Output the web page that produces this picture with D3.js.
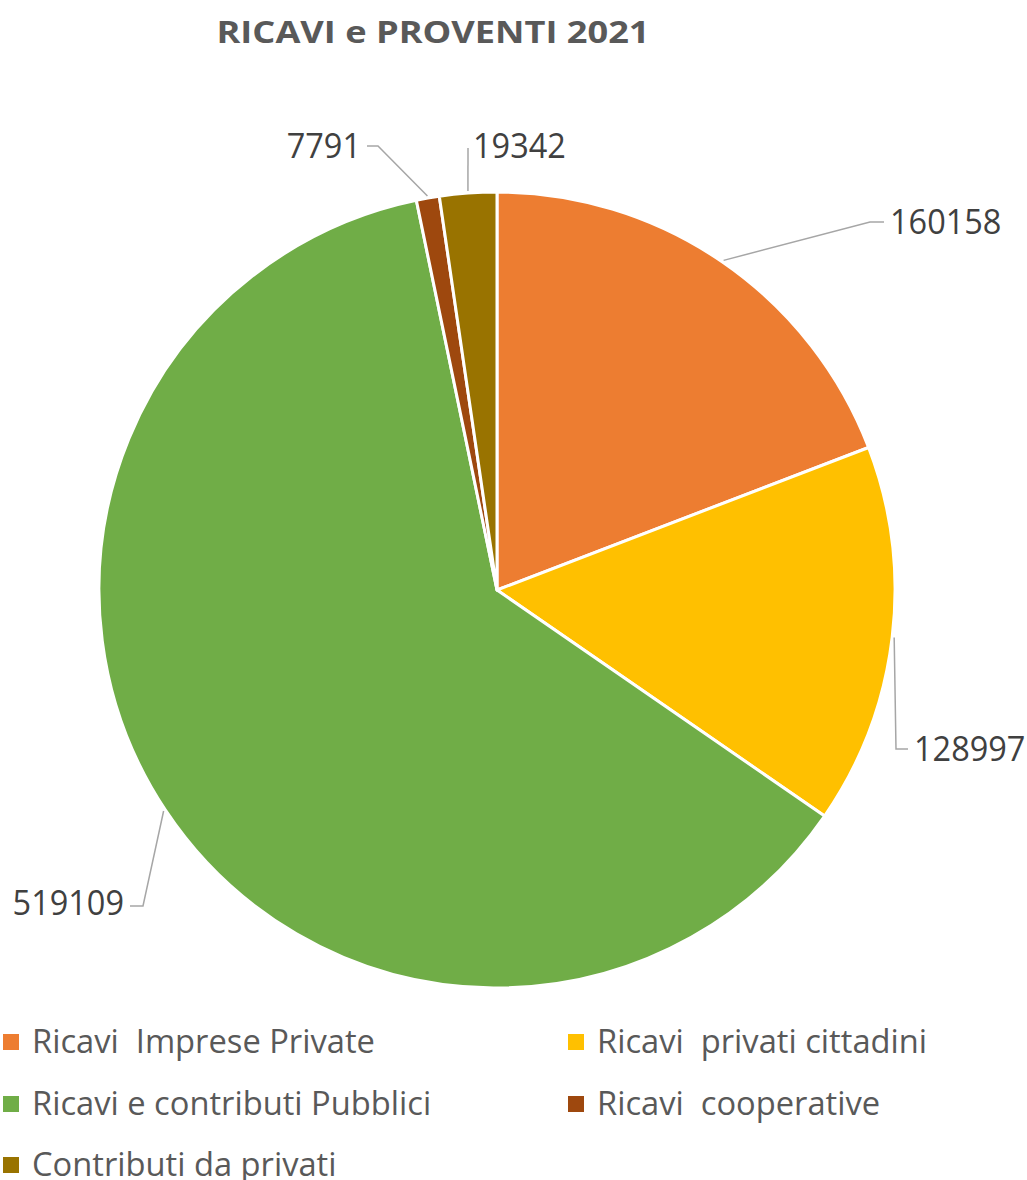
<!DOCTYPE html>
<html>
<head>
<meta charset="utf-8">
<script src="https://cdn.jsdelivr.net/npm/d3@7"></script>
<style>
  html, body { margin: 0; padding: 0; background: #fff; }
  text { font-family: "Open Sans", sans-serif; white-space: pre; }
</style>
</head>
<body>
<svg id="chart" width="1027" height="1180"></svg>
<script>
// data (clockwise from 12 o'clock)
var categories = [
  'Ricavi  Imprese Private',
  'Ricavi  privati cittadini',
  'Ricavi e contributi Pubblici',
  'Ricavi  cooperative',
  'Contributi da privati'
];
var values = [160158, 128997, 519109, 7791, 19342];
var colors = ['#ED7D31', '#FFC000', '#70AD47', '#9E480E', '#997300'];
var title = 'RICAVI e PROVENTI 2021';

// layout
var W = 1027, H = 1180,
    cx = 497, cy = 590, radius = 398;

// label placement: elbow of the leader line + which side the text sits on
var labelLayout = [
  {elbow: [870, 222], end: [884, 222], side: 'right', dy: 1},
  {elbow: [896, 749], end: [908, 749], side: 'right', dy: 1},
  {elbow: [143, 906], end: [130, 906], side: 'left', dy: -2},
  {elbow: [378, 146], end: [367, 146], side: 'left', dy: 1},
  {elbow: [468, 148], end: [468, 148], side: 'right', dy: -1, gap: 5}
];

var svg = d3.select('#chart');

function condense(sel, k) {
  sel.each(function () {
    var len = this.getComputedTextLength();
    d3.select(this).attr('textLength', len * k).attr('lengthAdjust', 'spacingAndGlyphs');
  });
}

// title
svg.append('text')
  .attr('x', 433)
  .attr('y', 43)
  .attr('text-anchor', 'middle')
  .attr('font-size', '31px')
  .attr('font-weight', 700)
  .attr('fill', '#595959')
  .attr('textLength', 433)
  .attr('lengthAdjust', 'spacingAndGlyphs')
  .text(title);

var pie = d3.pie().sort(null).value(d => d)
  .startAngle(0).endAngle(2 * Math.PI);
var arcs = pie(values);
var arc = d3.arc().innerRadius(0).outerRadius(radius);
var edgeArc = d3.arc().innerRadius(radius + 2).outerRadius(radius + 2);

var g = svg.append('g').attr('transform', `translate(${cx},${cy})`);

g.selectAll('path.slice')
  .data(arcs)
  .enter().append('path')
    .classed('slice', true)
    .attr('d', arc)
    .attr('fill', (d, i) => colors[i])
    .attr('stroke', '#fff')
    .attr('stroke-width', 3)
    .attr('stroke-linejoin', 'round');

// leader lines + value labels
var labels = svg.append('g').classed('labels', true);
arcs.forEach(function (d, i) {
  var lay = labelLayout[i],
      [ex, ey] = edgeArc.centroid(d),
      start = [cx + ex, cy + ey],
      gap = lay.gap || 6;
  labels.append('path')
    .attr('d', d3.line()([start, lay.elbow, lay.end]))
    .attr('fill', 'none')
    .attr('stroke', '#A6A6A6')
    .attr('stroke-width', 1.5);
  labels.append('text')
    .attr('x', lay.end[0] + (lay.side === 'right' ? gap : -gap))
    .attr('y', lay.end[1] + 11 + lay.dy)
    .attr('text-anchor', lay.side === 'right' ? 'start' : 'end')
    .attr('font-size', '34px')
    .attr('fill', '#404040')
    .text(values[i])
    .call(condense, 0.955);
});

// legend
var legend = svg.append('g').classed('legend', true);
var colX = [3, 568], rowY = [1034, 1096, 1157];
categories.forEach(function (name, i) {
  var col = i % 2, row = Math.floor(i / 2),
      item = legend.append('g')
        .attr('transform', `translate(${colX[col]}, ${rowY[row]})`);
  item.append('rect')
    .attr('width', 16).attr('height', 16)
    .attr('fill', colors[i]);
  item.append('text')
    .attr('x', 29)
    .attr('y', 19)
    .attr('font-size', '33px')
    .attr('fill', '#595959')
    .text(name)
    .call(condense, 0.99);
});
</script>
</body>
</html>
